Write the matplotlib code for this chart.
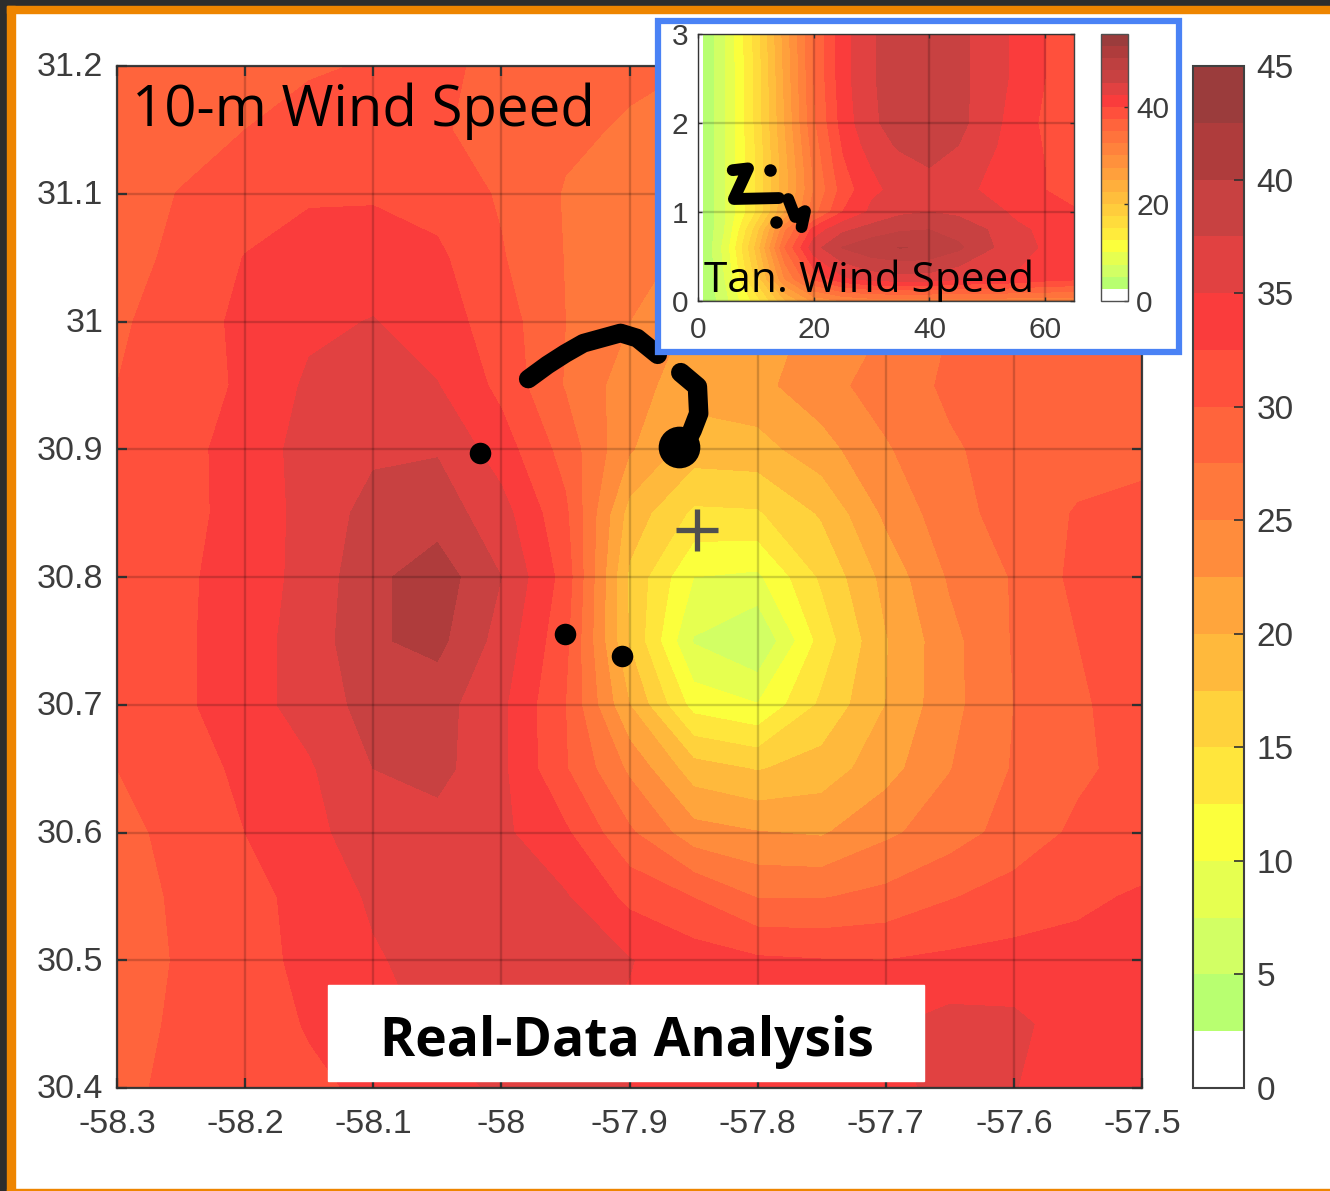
#!/usr/bin/env python3
import numpy as np
import matplotlib
matplotlib.use('Agg')
import matplotlib.pyplot as plt
from matplotlib.colors import ListedColormap
from matplotlib.patches import Rectangle
from matplotlib.transforms import ScaledTranslation

W, H = 1330, 1191

plt.rcParams['font.family'] = ['Liberation Sans', 'DejaVu Sans']

# main panel: 10-m wind speed
lon = [-58.3, -58.25, -58.2, -58.15, -58.1, -58.05, -58.0, -57.95, -57.9,
       -57.85, -57.8, -57.75, -57.7, -57.65, -57.6, -57.55, -57.5]
lat = [31.2, 31.15, 31.1, 31.05, 31.0, 30.95, 30.9, 30.85, 30.8,
       30.75, 30.7, 30.65, 30.6, 30.55, 30.5, 30.45, 30.4]
wind = [
    [28.5, 29.0, 29.3, 29.7, 30.2, 30.8, 29.0, 28.5, 28.0, 27.5, 27.0, 27.0, 27.0, 27.5, 28.0, 28.5, 29.0],
    [28.7, 29.1, 30.0, 31.0, 31.2, 30.3, 29.0, 28.0, 27.2, 26.8, 26.5, 26.5, 27.0, 27.5, 28.0, 29.0, 29.0],
    [29.0, 30.1, 31.0, 32.2, 32.2, 31.5, 29.7, 27.3, 26.5, 26.0, 25.5, 25.5, 26.5, 27.5, 28.0, 29.0, 29.0],
    [29.5, 30.3, 32.6, 33.5, 33.8, 33.0, 30.2, 27.4, 25.8, 24.5, 24.5, 25.0, 26.0, 27.0, 28.0, 28.5, 29.0],
    [29.8, 30.6, 33.4, 34.5, 35.1, 33.7, 31.2, 27.5, 25.0, 22.0, 21.5, 23.0, 25.0, 27.5, 28.0, 29.0, 29.0],
    [30.0, 31.0, 33.0, 35.4, 36.2, 35.1, 31.8, 27.3, 23.6, 21.0, 21.8, 24.0, 26.2, 27.9, 28.5, 29.0, 29.0],
    [30.0, 31.5, 33.8, 35.8, 37.0, 37.3, 33.7, 29.0, 22.8, 18.7, 19.0, 21.5, 24.7, 27.2, 28.4, 29.0, 29.0],
    [30.5, 31.5, 33.7, 35.7, 38.5, 38.8, 36.0, 30.5, 19.0, 14.5, 14.7, 17.8, 23.0, 26.5, 28.6, 30.2, 31.0],
    [31.0, 32.0, 33.7, 35.8, 39.4, 41.4, 37.5, 31.5, 17.0, 10.0, 9.5, 15.4, 20.8, 25.3, 27.7, 30.7, 31.0],
    [31.0, 32.0, 34.0, 36.0, 39.7, 40.7, 36.5, 30.7, 17.3, 7.3, 4.9, 13.5, 19.8, 24.2, 27.7, 30.0, 31.0],
    [30.5, 32.0, 34.0, 36.0, 38.5, 38.5, 35.5, 30.0, 20.0, 11.5, 10.1, 15.5, 20.0, 24.2, 27.5, 29.7, 31.0],
    [30.0, 31.0, 33.2, 34.7, 37.5, 38.3, 35.5, 30.2, 24.5, 18.6, 17.3, 18.6, 21.5, 24.9, 27.7, 29.5, 31.0],
    [29.0, 31.0, 32.5, 34.2, 36.5, 36.5, 35.5, 32.9, 27.9, 23.5, 22.6, 22.2, 24.5, 26.3, 28.5, 30.5, 31.0],
    [28.6, 30.5, 31.8, 33.2, 35.4, 36.0, 36.0, 35.2, 31.8, 29.9, 27.3, 27.3, 28.2, 29.8, 31.0, 32.0, 32.8],
    [29.0, 30.2, 31.6, 33.1, 34.7, 36.0, 36.0, 35.8, 35.1, 33.8, 32.9, 32.6, 32.5, 33.0, 33.3, 33.3, 33.5],
    [29.3, 30.3, 31.2, 32.7, 34.4, 35.3, 36.0, 35.5, 34.7, 34.2, 34.0, 34.0, 34.7, 35.9, 35.6, 33.7, 33.7],
    [29.2, 30.8, 31.0, 32.0, 33.0, 34.3, 35.3, 35.5, 35.0, 34.5, 34.0, 34.0, 34.5, 35.5, 35.1, 33.5, 33.5],
]
levels = np.arange(0, 47.5, 2.5)
colors = ['#ffffff', '#b8ff70', '#d2ff64', '#e6ff50', '#fbff3c', '#ffe63c',
          '#ffd23c', '#ffb93c', '#ffa53c', '#ff8c3c', '#ff783c', '#ff643c',
          '#ff503c', '#fa3c3c', '#e14141', '#c84141', '#af3c3c', '#9b3c3c']

# black track over the main panel
track_lon = [-57.979, -57.964, -57.950, -57.936, -57.907, -57.894, -57.878]
track_lat = [30.955, 30.966, 30.975, 30.983, 30.991, 30.987, 30.974]
hook_lon = [-57.860, -57.847, -57.846, -57.851, -57.857]
hook_lat = [30.960, 30.949, 30.928, 30.915, 30.903]
blob_lon = [-57.861]
blob_lat = [30.902]
dots_lon = [-58.017, -57.950, -57.906]
dots_lat = [30.897, 30.755, 30.738]
center_lon = [-57.847]
center_lat = [30.837]

lon_ticks = [-58.3, -58.2, -58.1, -58.0, -57.9, -57.8, -57.7, -57.6, -57.5]
lon_labels = ['-58.3', '-58.2', '-58.1', '-58', '-57.9', '-57.8', '-57.7', '-57.6', '-57.5']
lat_ticks = [30.4, 30.5, 30.6, 30.7, 30.8, 30.9, 31.0, 31.1, 31.2]
lat_labels = ['30.4', '30.5', '30.6', '30.7', '30.8', '30.9', '31', '31.1', '31.2']
cb_ticks = [0, 5, 10, 15, 20, 25, 30, 35, 40, 45]

# inset: tangential wind speed
rad = [1, 5, 10, 15, 20, 25, 30, 35, 40, 45, 50, 55, 60, 65]
hgt = [0, 0.25, 0.6, 0.8, 1, 1.25, 1.5, 1.75, 2, 2.5, 3]
tan_wind = [
    [2.6, 7.0, 13.5, 22.0, 28.0, 30.0, 31.0, 31.0, 31.0, 31.0, 31.0, 31.0, 31.0, 31.0],
    [2.6, 8.0, 18.0, 30.0, 38.0, 42.0, 43.5, 44.0, 43.8, 43.0, 42.5, 42.0, 41.0, 40.5],
    [2.6, 9.0, 20.5, 35.0, 44.0, 47.6, 49.3, 50.1, 49.7, 48.0, 45.3, 44.0, 42.0, 41.5],
    [2.6, 8.0, 18.5, 32.0, 41.0, 44.5, 46.0, 47.2, 47.5, 46.5, 45.0, 43.0, 42.0, 41.0],
    [2.6, 7.8, 15.0, 25.0, 34.0, 40.0, 43.0, 44.5, 45.0, 44.5, 43.5, 42.0, 41.0, 40.2],
    [2.6, 7.8, 15.0, 24.0, 32.5, 38.5, 42.0, 43.2, 44.0, 43.5, 42.0, 41.0, 40.0, 39.3],
    [2.6, 7.8, 15.0, 24.0, 33.0, 39.5, 42.5, 44.0, 45.0, 44.0, 42.5, 41.5, 40.0, 38.5],
    [2.6, 7.8, 15.2, 24.5, 33.7, 40.2, 43.7, 45.4, 45.9, 45.0, 43.0, 41.5, 39.8, 38.5],
    [2.6, 7.8, 15.5, 25.0, 34.5, 41.0, 44.6, 46.0, 46.5, 45.8, 43.5, 41.5, 39.5, 38.5],
    [2.6, 7.8, 15.5, 25.5, 35.0, 41.5, 44.8, 46.0, 47.0, 45.8, 43.8, 42.0, 40.0, 38.5],
    [2.6, 7.8, 16.0, 26.0, 35.0, 41.5, 44.8, 46.0, 46.5, 45.8, 43.8, 42.0, 40.0, 38.5],
]
tan_levels = np.arange(0, 57.5, 2.5)
tan_colors = ['#ffffff', '#b8ff70', '#d2ff64', '#e6ff50', '#fbff3c', '#ffeb3c',
              '#ffdc3c', '#ffcd3c', '#ffbe3c', '#ffaf3c', '#ffa03c', '#ff913c',
              '#ff823c', '#ff733c', '#ff643c', '#ff503c', '#fa3c3c', '#e14141',
              '#c84141', '#be4040', '#af3c3c', '#9b3c3c']

z_x = [6.0, 8.65, 6.2, 14.0]
z_y = [1.47, 1.49, 1.146, 1.157]
hook2_x = [15.6, 16.8, 18.5, 17.9]
hook2_y = [1.146, 0.944, 1.01, 0.83]
dots2_x = [12.4, 13.5]
dots2_y = [1.47, 0.888]
rad_ticks = [0, 20, 40, 60]
hgt_ticks = [0, 1, 2, 3]
tan_cb_ticks = [0, 20, 40]

TICKC = '#3c3c3c'


def px_axes(fig, x0, y0, x1, y1, **kw):
    return fig.add_axes([x0 / W, 1 - y1 / H, (x1 - x0) / W, (y1 - y0) / H], **kw)


def px_text(fig, x, y, s, **kw):
    return fig.text(x / W, 1 - y / H, s, **kw)


def px_rect(fig, x0, y0, x1, y1, **kw):
    r = Rectangle((x0 / W, 1 - y1 / H), (x1 - x0) / W, (y1 - y0) / H,
                  transform=fig.transFigure, **kw)
    fig.add_artist(r)
    return r


def style_box(ax, lw, ticklen, size, pad):
    for s in ax.spines.values():
        s.set_color('#404040')
        s.set_linewidth(lw)
    ax.tick_params(direction='in', length=ticklen, width=lw, top=True, right=True,
                   color='#303030', labelcolor=TICKC, labelsize=size, pad=pad)
    ax.grid(True, color='k', alpha=0.18, lw=1.7)
    ax.set_axisbelow(False)


fig = plt.figure(figsize=(W / 100, H / 100), dpi=100, facecolor='white')

# window frame
px_rect(fig, 0, 0, W, 6, color='#2d2d2d', zorder=-2)
px_rect(fig, 0, 0, 7, H, color='#2d2d2d', zorder=-2)
px_rect(fig, 7, 6, W, 13, color='#ee8500', zorder=-1)
px_rect(fig, 7, 6, 15, H, color='#ee8500', zorder=-1)
px_rect(fig, 7, H - 2, W, H, color='#ee8500', zorder=-1)

ax = px_axes(fig, 117, 66, 1142, 1088)
cf = ax.contourf(lon, lat, wind, levels=levels, cmap=ListedColormap(colors), vmin=0, vmax=45)
ax.set_xlim(-58.3, -57.5)
ax.set_ylim(30.4, 31.2)
ax.set_xticks(lon_ticks, lon_labels)
ax.set_yticks(lat_ticks, lat_labels)
style_box(ax, 1.6, 7, 24.5, 10)
ax.tick_params(axis='x', pad=15)
up = ScaledTranslation(0, 1.5 / 100, fig.dpi_scale_trans)
for t in ax.get_yticklabels():
    t.set_transform(t.get_transform() + up)

ax.plot(track_lon, track_lat, '-', color='k', lw=13.5, solid_capstyle='round', solid_joinstyle='round')
ax.plot(hook_lon, hook_lat, '-', color='k', lw=14, solid_capstyle='round', solid_joinstyle='round')
ax.plot(blob_lon, blob_lat, 'o', color='k', ms=30, mew=0)
ax.plot(dots_lon, dots_lat, 'o', color='k', ms=15.5, mew=0)
ax.plot(center_lon, center_lat, '+', color='#505050', ms=30, mew=3.8)

cax = px_axes(fig, 1193, 66, 1244, 1088)
cb = fig.colorbar(cf, cax=cax, ticks=cb_ticks)
cb.outline.set_edgecolor('#404040')
cb.outline.set_linewidth(1.5)
cb.ax.tick_params(direction='in', length=7, width=1.2, color='#303030',
                  labelcolor=TICKC, labelsize=24, pad=9)

fig.text(132 / W, 1 - 126 / H, '10-m Wind Speed', family=['Open Sans', 'DejaVu Sans'],
         fontsize=40.6, color='k', zorder=9)

px_rect(fig, 328, 985, 924, 1081, color='white', zorder=5)
px_text(fig, 627, 1042, 'Real-Data Analysis', family=['Open Sans', 'DejaVu Sans'],
        fontweight='bold', fontsize=38.5, color='k', ha='center', va='center', zorder=9)

# inset panel
px_rect(fig, 658, 21, 1179, 352, facecolor='white', edgecolor='#4a82f5', lw=4.5, zorder=5)

iax = px_axes(fig, 698, 34, 1074, 301, zorder=6)
tcf = iax.contourf(rad, hgt, tan_wind, levels=tan_levels, cmap=ListedColormap(tan_colors), vmin=0, vmax=55)
iax.set_xlim(0, 65)
iax.set_ylim(0, 3)
iax.set_xticks(rad_ticks)
iax.set_yticks(hgt_ticks)
style_box(iax, 1.0, 3, 21.5, 7)
iax.tick_params(axis='x', pad=11)
iax.plot(z_x, z_y, '-', color='k', lw=8.5, solid_capstyle='round', solid_joinstyle='round')
iax.plot(hook2_x, hook2_y, '-', color='k', lw=8.5, solid_capstyle='round', solid_joinstyle='round')
iax.plot(dots2_x, dots2_y, 'o', color='k', ms=9, mew=0)

icax = px_axes(fig, 1101, 34, 1128, 301, zorder=6)
icb = fig.colorbar(tcf, cax=icax, ticks=tan_cb_ticks)
icb.outline.set_edgecolor('#505050')
icb.outline.set_linewidth(1.0)
icb.ax.tick_params(direction='in', length=3, width=1.0, color='#303030',
                   labelcolor=TICKC, labelsize=21.5, pad=6)

px_text(fig, 704, 292, 'Tan. Wind Speed', family=['Open Sans', 'DejaVu Sans'],
        fontsize=30.5, color='k', zorder=9)

fig.savefig('out.png', dpi=100)
